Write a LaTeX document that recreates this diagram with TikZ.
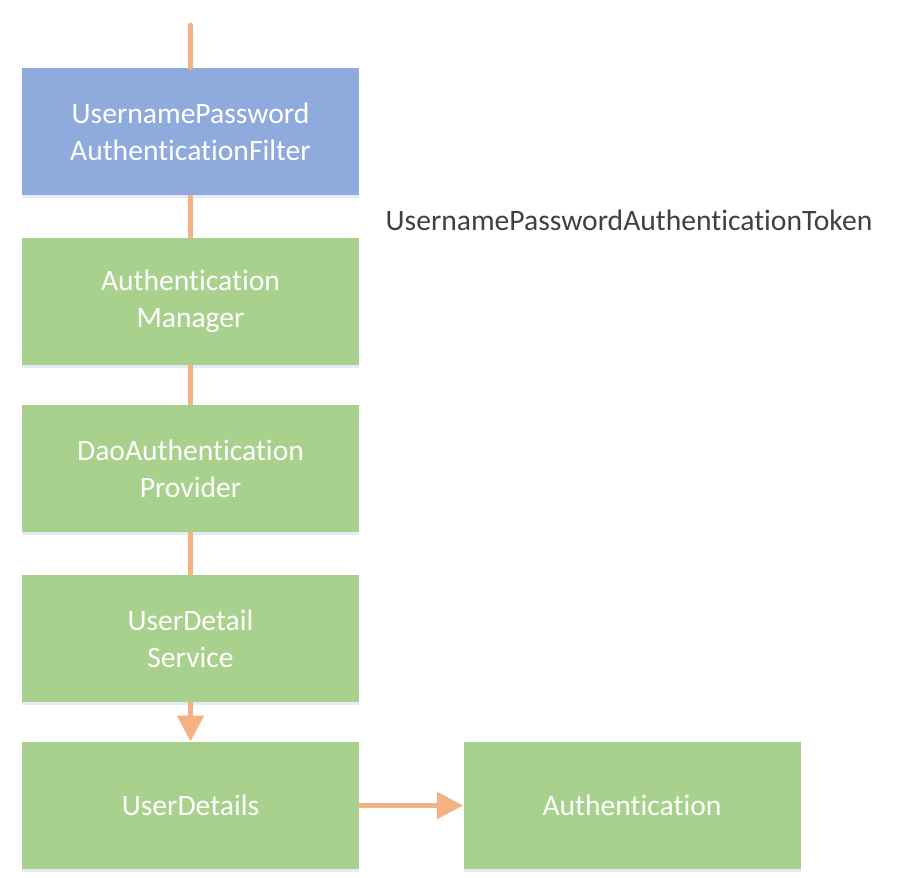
\documentclass[tikz,border=0pt]{standalone}
\usepackage{fontspec}
\setmainfont[RawFeature={-liga;-clig;-dlig}]{Carlito}
\usetikzlibrary{arrows.meta,shadows}
\definecolor{boxblue}{HTML}{8FAADC}
\definecolor{boxgreen}{HTML}{A9D18E}
\definecolor{linkorange}{HTML}{F4B183}
\definecolor{labelgray}{HTML}{404040}
\tikzset{
  flowbox/.style={rectangle, fill=boxgreen, draw=none, minimum width=168.5pt, minimum height=63.5pt,
    text=white, align=center, font=\fontsize{14.8pt}{18.5pt}\selectfont, inner sep=0pt,
    drop shadow={shadow xshift=0pt, shadow yshift=-1.5pt, opacity=0.12, fill=blue!40!gray}},
  filterbox/.style={flowbox, fill=boxblue},
  link/.style={draw=linkorange, line width=2.5pt},
  linkarrow/.style={link, -{Triangle[width=13pt,length=13pt]}},
}
\begin{document}
\begin{tikzpicture}[x=0.5pt,y=-0.5pt]
\useasboundingbox (0,0) rectangle (898,877);
\coordinate (start) at (190.5,25);
\node[filterbox] (filter) at (190.5,131.5) {UsernamePassword\\AuthenticationFilter};
\node[flowbox] (manager) at (190.5,301.5) {Authentication\\Manager};
\node[flowbox] (provider) at (190.5,468.5) {DaoAuthentication\\Provider};
\node[flowbox] (service) at (190.5,638.5) {UserDetail\\Service};
\node[flowbox] (details) at (190.5,805.5) {UserDetails};
\node[flowbox] (auth) at (632,805.5) {Authentication};
\node[text=labelgray, font=\fontsize{14.8pt}{18.5pt}\selectfont, inner sep=0pt] (token) at (629,220) {UsernamePasswordAuthenticationToken};
\draw[link, line cap=round] (start) -- (filter.north);
\draw[link] (filter.south) -- (manager.north);
\draw[link] (manager.south) -- (provider.north);
\draw[link] (provider.south) -- (service.north);
\draw[linkarrow] (service.south) -- (details.north);
\draw[linkarrow] (details.east) -- (auth.west);
\end{tikzpicture}
\end{document}
